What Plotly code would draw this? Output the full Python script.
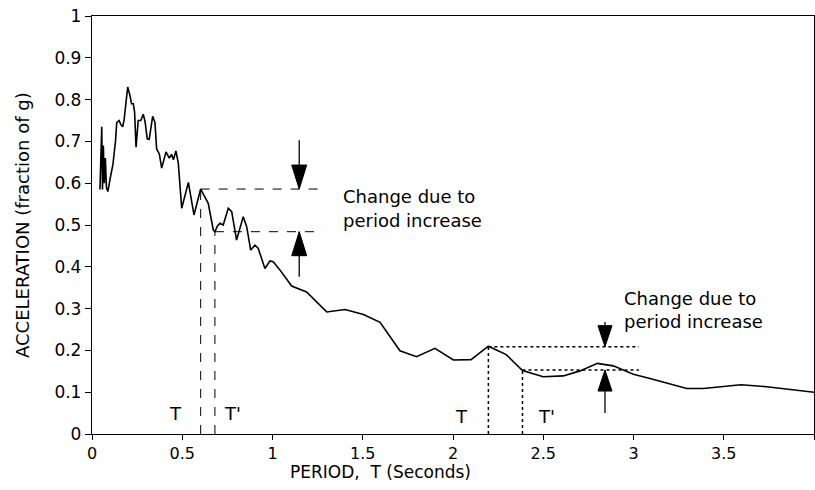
import plotly.graph_objects as go

# Response spectrum: period (s) vs spectral acceleration (fraction of g)
period = [0.044, 0.054, 0.058, 0.063, 0.068, 0.074, 0.080, 0.088, 0.100, 0.116,
          0.130, 0.137, 0.150, 0.160, 0.170, 0.178, 0.190, 0.198, 0.210, 0.219,
          0.229, 0.236, 0.244, 0.256, 0.270, 0.284, 0.294, 0.306, 0.317, 0.336,
          0.349, 0.358, 0.373, 0.386, 0.410, 0.428, 0.441, 0.451, 0.465, 0.478,
          0.497, 0.534, 0.565, 0.602, 0.644, 0.672, 0.681, 0.695, 0.709, 0.727,
          0.755, 0.774, 0.801, 0.838, 0.857, 0.879, 0.903, 0.921, 0.958, 0.986,
          1.004, 1.042, 1.106, 1.189, 1.300, 1.402, 1.504, 1.596, 1.706, 1.798,
          1.900, 2.002, 2.100, 2.196, 2.295, 2.385, 2.500, 2.611, 2.704, 2.800,
          2.888, 2.999, 3.091, 3.295, 3.387, 3.595, 3.738, 3.867, 4.000]
accel = [0.585, 0.735, 0.585, 0.690, 0.600, 0.660, 0.590, 0.580, 0.610, 0.645,
         0.700, 0.745, 0.750, 0.740, 0.735, 0.752, 0.800, 0.830, 0.810, 0.790,
         0.790, 0.770, 0.686, 0.750, 0.750, 0.765, 0.747, 0.706, 0.705, 0.760,
         0.745, 0.682, 0.670, 0.636, 0.675, 0.660, 0.669, 0.656, 0.677, 0.648,
         0.540, 0.602, 0.524, 0.586, 0.552, 0.488, 0.484, 0.498, 0.504, 0.500,
         0.540, 0.532, 0.464, 0.520, 0.496, 0.440, 0.452, 0.444, 0.396, 0.414,
         0.412, 0.392, 0.354, 0.340, 0.292, 0.298, 0.286, 0.267, 0.199, 0.185,
         0.205, 0.177, 0.178, 0.210, 0.190, 0.152, 0.137, 0.139, 0.151, 0.169,
         0.163, 0.143, 0.133, 0.109, 0.109, 0.118, 0.113, 0.107, 0.100]

x_ticks = [0, 0.5, 1, 1.5, 2, 2.5, 3, 3.5, 4]
x_tick_text = ["0", "0.5", "1", "1.5", "2", "2.5", "3", "3.5", "4"]
y_ticks = [0, 0.1, 0.2, 0.3, 0.4, 0.5, 0.6, 0.7, 0.8, 0.9, 1.0]
y_tick_text = ["0", "0.1", "0.2", "0.3", "0.4", "0.5", "0.6", "0.7", "0.8", "0.9", "1"]

# Short-period case: T -> T'
short_T, short_Tp = 0.602, 0.681
short_acc_T, short_acc_Tp = 0.586, 0.484
short_line_end = [1.30, 1.28]
short_arrow_x = 1.148
short_arrow_tails = [0.703, 0.376]

# Long-period case: T -> T'
long_T, long_Tp = 2.196, 2.385
long_acc_T, long_acc_Tp = 0.209, 0.153
long_line_end = [3.03, 3.03]
long_arrow_x = 2.842
long_arrow_tails = [0.268, 0.050]

FONT = "DejaVu Sans"
INK = "black"

fig = go.Figure()
fig.add_trace(go.Scatter(x=period, y=accel, mode="lines",
                         line=dict(color=INK, width=1.6), showlegend=False,
                         hoverinfo="skip"))

shapes = []


def guide_lines(t, tp, a, ap, ends, dash, width):
    # vertical drops to the axis and horizontal levels toward the arrows
    shapes.append(dict(type="line", x0=t, x1=t, y0=0, y1=a,
                       line=dict(color=INK, width=width, dash=dash)))
    shapes.append(dict(type="line", x0=tp, x1=tp, y0=0, y1=ap,
                       line=dict(color=INK, width=width, dash=dash)))
    shapes.append(dict(type="line", x0=t, x1=ends[0], y0=a, y1=a,
                       line=dict(color=INK, width=width, dash=dash)))
    shapes.append(dict(type="line", x0=tp, x1=ends[1], y0=ap, y1=ap,
                       line=dict(color=INK, width=width, dash=dash)))


def pair_of_arrows(x, a, ap, tails, head_len, head_half):
    # downward arrow onto the upper level, upward arrow onto the lower level
    shapes.append(dict(type="line", x0=x, x1=x, y0=tails[0], y1=a,
                       line=dict(color=INK, width=1.3)))
    shapes.append(dict(type="path", xsizemode="pixel", ysizemode="pixel",
                       xanchor=x, yanchor=a,
                       path=f"M0,0 L{-head_half},{head_len} L{head_half},{head_len} Z",
                       fillcolor=INK, line=dict(color=INK, width=1)))
    shapes.append(dict(type="line", x0=x, x1=x, y0=tails[1], y1=ap,
                       line=dict(color=INK, width=1.3)))
    shapes.append(dict(type="path", xsizemode="pixel", ysizemode="pixel",
                       xanchor=x, yanchor=ap,
                       path=f"M0,0 L{-head_half},{-head_len} L{head_half},{-head_len} Z",
                       fillcolor=INK, line=dict(color=INK, width=1)))


guide_lines(short_T, short_Tp, short_acc_T, short_acc_Tp, short_line_end, "dash", 1)
guide_lines(long_T, long_Tp, long_acc_T, long_acc_Tp, long_line_end, "dot", 1.5)
pair_of_arrows(short_arrow_x, short_acc_T, short_acc_Tp, short_arrow_tails, 24, 7.5)
pair_of_arrows(long_arrow_x, long_acc_T, long_acc_Tp, long_arrow_tails, 21, 7)

annotations = []


def label(text, x, y, size=18, xanchor="center"):
    annotations.append(dict(text=text, x=x, y=y, xref="x", yref="y",
                            xanchor=xanchor, yanchor="middle", showarrow=False,
                            font=dict(family=FONT, size=size, color=INK)))


label("T", 0.465, 0.048)
label("T'", 0.78, 0.048)
label("T", 2.048, 0.043)
label("T'", 2.52, 0.043)
label("Change due to", 1.38, 0.567, 18, "left")
label("period increase", 1.38, 0.510, 18, "left")
label("Change due to", 2.936, 0.325, 18, "left")
label("period increase", 2.936, 0.270, 18, "left")

# Axis titles, positioned in paper coordinates
annotations.append(dict(text="PERIOD,&nbsp;&nbsp;T (Seconds)",
                        x=(380 - 92) / 722, y=-38 / 418, xref="paper", yref="paper",
                        xanchor="center", yanchor="middle", showarrow=False,
                        font=dict(family=FONT, size=17, color=INK)))
annotations.append(dict(text="ACCELERATION (fraction of g)",
                        x=-70 / 722, y=0.5, xref="paper", yref="paper",
                        xanchor="center", yanchor="middle", textangle=-90,
                        showarrow=False, font=dict(family=FONT, size=18, color=INK)))

fig.update_layout(
    width=815, height=490,
    margin=dict(l=92, r=1, t=16, b=56),
    paper_bgcolor="white", plot_bgcolor="white",
    font=dict(family=FONT, size=16, color=INK),
    shapes=shapes, annotations=annotations,
    xaxis=dict(range=[0, 4], tickvals=x_ticks, ticktext=x_tick_text,
               showgrid=False, zeroline=False, showline=True, mirror=True,
               linecolor=INK, linewidth=1.3, ticks="outside", ticklen=5,
               tickcolor=INK, tickwidth=1, tickfont=dict(size=16)),
    yaxis=dict(range=[0, 1], tickvals=y_ticks, ticktext=y_tick_text,
               showgrid=False, zeroline=False, showline=True, mirror=True,
               linecolor=INK, linewidth=1.3, ticks="outside", ticklen=6,
               tickcolor=INK, tickwidth=1, tickfont=dict(size=17)),
)

fig.write_html("out.html")
